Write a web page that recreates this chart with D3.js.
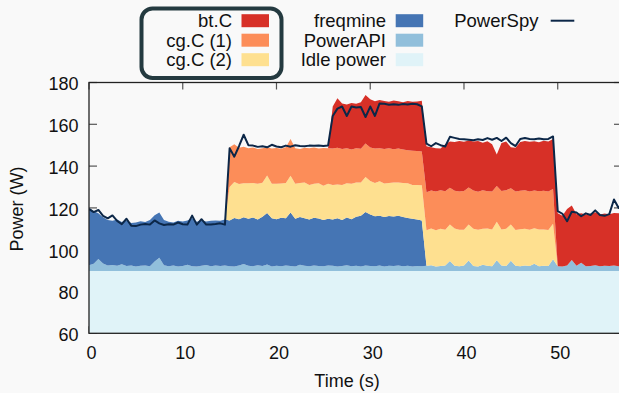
<!DOCTYPE html>
<html>
<head>
<meta charset="utf-8">
<script src="https://cdn.jsdelivr.net/npm/d3@7"></script>
<style>
  html, body { margin: 0; padding: 0; background: #f9f9f9; }
  svg { display: block; font-family: "Liberation Sans", Arial, Helvetica, sans-serif; }
</style>
</head>
<body>
<svg id="chart" width="619" height="393"></svg>
<script>
// Power drawn by each process, sampled every half second (W).
const sampleStep = 0.5;
const idlePower = 89.8;

const powerApi = [
  2.8,3.5,5.8,3.6,2.6,2.9,2.5,3.2,2.4,2.6,
  2.2,2.5,2.7,2.3,4.6,6.4,2.8,2.3,2.6,2.2,
  2.4,3.0,2.3,2.2,2.5,2.9,2.3,2.6,2.4,2.7,
  2.3,2.2,2.6,3.4,2.5,2.3,2.8,2.4,3.1,2.2,
  2.5,2.3,2.6,2.4,2.2,3.0,2.5,2.3,2.6,2.4,
  2.3,2.7,2.5,2.2,2.4,2.8,2.3,2.5,2.2,2.6,
  2.4,2.3,2.7,2.2,2.5,2.4,2.6,2.3,2.5,2.2,
  2.4,2.3,2.5,2.8,2.2,2.4,2.6,4.8,2.5,2.3,
  2.6,5.0,2.4,2.2,3.0,2.5,2.3,5.2,2.6,2.4,
  4.9,2.5,2.3,2.7,2.4,3.5,2.3,2.5,2.4,5.6,
  2.3,2.2,2.6,5.3,2.5,4.0,2.3,2.4,2.8,2.3,
  2.5,2.4,2.6,2.3,2.5
];

const freqmine = [
  27.2,25.2,21.9,22.1,21.8,21.1,22.2,20.2,21.8,20.4,
  21.0,21.3,20.7,22.1,22.1,21.6,21.6,21.3,20.6,21.8,
  21.3,21.2,23.1,21.4,21.7,20.8,21.7,21.6,21.7,21.9,
  21.9,23.2,22.2,22.3,22.5,23.3,21.9,23.6,24.7,23.0,
  22.3,23.2,22.6,25.6,22.8,22.8,22.8,22.3,22.9,22.7,
  22.1,22.3,22.2,23.0,22.0,22.8,22.5,23.5,24.2,25.6,
  24.6,23.9,23.8,23.7,23.8,23.7,23.8,23.5,22.9,22.8,
  22.2,21.9,
  0,0,0,0,0,0,0,0,0,0,
  0,0,0,0,0,0,0,0,0,0,
  0,0,0,0,0,0,0,0,0,0,
  0,0,0,0,0,0,0,0,0,0,
  0,0,0
];

const cgC2 = [
  0,0,0,0,0,0,0,0,0,0,
  0,0,0,0,0,0,0,0,0,0,
  0,0,0,0,0,0,0,0,0,0,
  16.0,17.2,16.8,16.3,17.0,16.5,17.1,16.2,17.9,16.6,
  17.0,16.4,16.9,17.6,16.8,16.3,17.0,16.6,16.2,16.9,
  16.4,16.7,16.5,16.2,16.8,16.4,16.9,16.3,16.0,16.8,
  16.1,15.9,16.4,16.0,15.8,16.2,15.9,16.3,16.6,16.2,
  16.5,16.8,
  17.0,17.6,17.3,17.8,17.2,17.5,17.9,17.4,17.1,17.3,
  17.8,17.5,17.2,17.9,17.6,18.4,17.3,17.8,17.4,17.1,
  17.7,17.5,17.3,17.0,17.6,17.4,17.2,17.0,
  0,0,0,0,0,0,0,0,0,0,
  0,0,0,0,0
];

const cgC1 = [
  0,0,0,0,0,0,0,0,0,0,
  0,0,0,0,0,0,0,0,0,0,
  0,0,0,0,0,0,0,0,0,0,
  19.0,18.1,17.4,17.4,16.7,17.0,16.6,16.6,13.5,16.8,
  17.1,16.6,17.1,17.6,17.0,16.3,16.7,17.5,17.4,16.6,
  18.1,17.1,
  17.4,17.6,17.2,16.8,16.5,16.4,16.1,16.0,16.0,16.5,
  15.9,16.5,16.6,16.0,16.3,16.1,15.8,16.4,16.3,16.2,
  18.2,18.1,18.6,18.4,18.4,17.5,18.0,18.3,18.6,17.7,
  18.3,18.2,18.4,17.8,18.1,17.1,18.4,18.5,17.3,18.5,
  18.4,18.4,18.3,18.0,18.3,18.5,18.5,16.6,
  0,0,0,0,0,0,0,0,0,0,
  0,0,0,0,0
];

const btC = [
  0,0,0,0,0,0,0,0,0,0,
  0,0,0,0,0,0,0,0,0,0,
  0,0,0,0,0,0,0,0,0,0,
  0,0,0,0,0,0,0,0,0,0,
  0,0,0,0,0,0,0,0,0,0,
  0,0,
  20.1,23.7,21.8,20.9,22.2,21.3,22.3,23.2,23.1,22.6,
  23.0,23.0,22.3,23.3,22.6,22.6,23.6,23.4,23.7,24.3,
  22.0,20.7,20.7,20.0,22.5,22.2,23.3,24.2,23.5,22.4,
  23.5,24.3,22.8,23.9,22.7,15.0,22.9,23.3,19.6,20.9,
  23.3,23.6,23.8,23.6,23.4,23.9,23.9,24.0,
  25.4,24.2,27.1,26.1,24.7,23.6,24.7,25.0,25.3,24.8,
  25.0,24.8,25.2,25.3,25.2
];

// Wall-plug measurement (W)
const powerSpy = [
  119.5,118.0,119.0,116.2,115.0,116.4,113.8,112.2,114.8,111.5,
  111.3,112.0,112.3,112.0,114.0,112.6,111.8,112.2,112.0,113.0,
  112.2,112.0,116.3,112.0,114.6,112.0,112.1,112.3,112.6,112.0,
  148.5,144.5,149.5,155.0,150.0,149.8,149.2,149.5,149.0,150.2,
  149.4,149.0,149.8,149.3,150.0,149.6,149.5,149.8,149.7,149.9,
  149.6,149.8,
  164.0,167.5,168.5,164.0,168.5,168.0,168.3,163.5,168.5,164.0,
  170.0,169.8,169.4,169.6,169.3,169.7,169.5,169.8,169.6,168.6,
  150.8,149.5,151.0,150.0,149.4,154.0,153.5,153.0,152.8,152.6,
  152.4,152.8,152.5,153.4,152.6,153.5,152.0,153.6,151.0,149.6,
  153.0,153.4,153.0,152.8,153.2,152.9,153.0,154.2,
  118.5,117.2,113.6,118.2,117.8,116.0,117.4,116.6,118.8,116.6,
  116.2,117.0,124.0,120.0,120.2
];

const xTicks = [0, 10, 20, 30, 40, 50];
const yTicks = [60, 80, 100, 120, 140, 160, 180];

// Stack order, bottom to top
const seriesKeys   = ["idle", "powerapi", "freqmine", "cg2", "cg1", "bt"];
const seriesNames  = ["Idle power", "PowerAPI", "freqmine", "cg.C (2)", "cg.C (1)", "bt.C"];
const seriesColors = ["#e0f3f8", "#91bfdb", "#4575b4", "#fee090", "#fc8d59", "#d73027"];
const lineColor = "#0c2748";

const time = powerSpy.map((_, i) => i * sampleStep);
const rows = time.map((t, i) => ({
  t,
  idle: idlePower,
  powerapi: powerApi[i],
  freqmine: freqmine[i],
  cg2: cgC2[i],
  cg1: cgC1[i],
  bt: btC[i]
}));

const svg = d3.select("#chart");
const plot = { left: 89, right: 621, top: 82.5, bottom: 333.3 };

const x = d3.scaleLinear().domain([0, 56.75]).range([plot.left, plot.right]);
const y = d3.scaleLinear().domain([60, 180]).range([plot.bottom, plot.top]);

svg.append("defs").append("clipPath").attr("id", "plotClip")
  .append("rect")
  .attr("x", plot.left).attr("y", plot.top)
  .attr("width", plot.right - plot.left).attr("height", plot.bottom - plot.top);

// Tick marks along all four sides
const ticks = svg.append("g").attr("stroke", "#555").attr("stroke-width", 1.2);
xTicks.forEach(v => {
  ticks.append("line").attr("x1", x(v)).attr("x2", x(v)).attr("y1", plot.top).attr("y2", plot.top + 7);
  ticks.append("line").attr("x1", x(v)).attr("x2", x(v)).attr("y1", plot.bottom).attr("y2", plot.bottom - 7);
});
yTicks.forEach(v => {
  ticks.append("line").attr("x1", plot.left).attr("x2", plot.left + 8).attr("y1", y(v)).attr("y2", y(v));
  ticks.append("line").attr("x1", plot.right).attr("x2", plot.right - 7).attr("y1", y(v)).attr("y2", y(v));
});

// Stacked areas
const stacked = d3.stack().keys(seriesKeys)(rows);
const area = d3.area()
  .x(d => x(d.data.t))
  .y0(d => y(d[0]))
  .y1(d => y(d[1]));

svg.append("g").attr("clip-path", "url(#plotClip)")
  .selectAll("path")
  .data(stacked)
  .join("path")
  .attr("fill", (d, i) => seriesColors[i])
  .attr("d", area);

// PowerSpy line
const line = d3.line().x((d, i) => x(time[i])).y(d => y(d));
svg.append("path")
  .attr("clip-path", "url(#plotClip)")
  .datum(powerSpy)
  .attr("fill", "none")
  .attr("stroke", lineColor)
  .attr("stroke-width", 2)
  .attr("stroke-linejoin", "round")
  .attr("d", line);

// Frame
svg.append("rect")
  .attr("x", plot.left).attr("y", plot.top)
  .attr("width", plot.right - plot.left).attr("height", plot.bottom - plot.top)
  .attr("fill", "none").attr("stroke", "#222").attr("stroke-width", 1.3);

// Tick labels
const axisFont = 18;
const legendFont = 18.5;
svg.append("g").selectAll("text").data(xTicks).join("text")
  .attr("x", d => x(d) + 2.5).attr("y", 359)
  .attr("text-anchor", "middle").attr("font-size", axisFont).attr("fill", "#111")
  .text(d => d);
svg.append("g").selectAll("text").data(yTicks).join("text")
  .attr("x", 78.5).attr("y", d => y(d) + 7.8)
  .attr("text-anchor", "end").attr("font-size", axisFont).attr("fill", "#111")
  .text(d => d);

// Axis titles
svg.append("text").attr("x", 347).attr("y", 387)
  .attr("text-anchor", "middle").attr("font-size", axisFont).attr("fill", "#111")
  .text("Time (s)");
svg.append("text")
  .attr("transform", "translate(22.5,209) rotate(-90)")
  .attr("text-anchor", "middle").attr("font-size", axisFont).attr("fill", "#111")
  .text("Power (W)");

// Legend
const legend = svg.append("g");
legend.append("rect")
  .attr("x", 141.5).attr("y", 8.5).attr("width", 140).attr("height", 69.5)
  .attr("rx", 11).attr("ry", 11)
  .attr("fill", "none").attr("stroke", "#243a40").attr("stroke-width", 4);

const rowY = [20.7, 40.2, 59.7];
const legendColumns = [
  { textRight: 232, swatchX: 241.5, keys: ["bt", "cg1", "cg2"] },
  { textRight: 386, swatchX: 395.7, keys: ["freqmine", "powerapi", "idle"] }
];
legendColumns.forEach(col => {
  col.keys.forEach((k, r) => {
    const idx = seriesKeys.indexOf(k);
    legend.append("rect")
      .attr("x", col.swatchX).attr("y", rowY[r] - 6.5)
      .attr("width", 27.5).attr("height", 13)
      .attr("fill", seriesColors[idx]);
    legend.append("text")
      .attr("x", col.textRight).attr("y", rowY[r] + 6.6)
      .attr("text-anchor", "end").attr("font-size", legendFont).attr("fill", "#111")
      .text(seriesNames[idx]);
  });
});
legend.append("text")
  .attr("x", 538.5).attr("y", rowY[0] + 6.6)
  .attr("text-anchor", "end").attr("font-size", legendFont).attr("fill", "#111")
  .text("PowerSpy");
legend.append("line")
  .attr("x1", 550.7).attr("x2", 574.3).attr("y1", rowY[0]).attr("y2", rowY[0])
  .attr("stroke", lineColor).attr("stroke-width", 2);
</script>
</body>
</html>
